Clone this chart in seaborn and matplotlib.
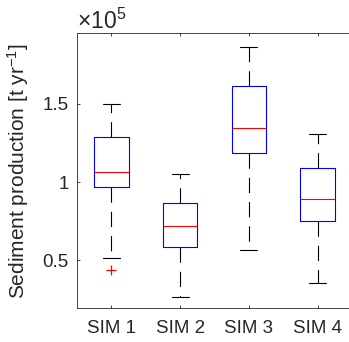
import pandas as pd
import matplotlib as mpl
import matplotlib.pyplot as plt
import seaborn as sns
from matplotlib.ticker import FuncFormatter

sims = ['SIM 1', 'SIM 2', 'SIM 3', 'SIM 4']
sim1 = [0.436, 0.513, 0.968, 1.064, 1.064, 1.064, 1.287, 1.50, 1.50]
sim2 = [0.263, 0.583, 0.718, 0.865, 1.051]
sim3 = [0.564, 1.186, 1.346, 1.615, 1.865]
sim4 = [0.353, 0.750, 0.891, 1.090, 1.308]
yticks = [0.5, 1.0, 1.5]

sns.set_style('ticks')
mpl.rcParams['font.family'] = ['Liberation Sans', 'DejaVu Sans']
mpl.rcParams['mathtext.fontset'] = 'custom'
mpl.rcParams['mathtext.rm'] = 'Liberation Sans'
mpl.rcParams['mathtext.it'] = 'Liberation Sans:italic'
mpl.rcParams['lines.scale_dashes'] = False
mpl.rcParams['xtick.direction'] = 'in'
mpl.rcParams['ytick.direction'] = 'in'

txt = '0.15'

df = pd.DataFrame({'Simulation': [s for s, v in zip(sims, [sim1, sim2, sim3, sim4]) for _ in v],
                   'Production': sim1 + sim2 + sim3 + sim4})

f = plt.figure(figsize=(3.49, 3.42), dpi=100)
f.patch.set_facecolor('white')
ax = f.add_axes([0.2206, 0.098, 0.788, 0.8056])

sns.boxplot(x='Simulation', y='Production', data=df, ax=ax, width=0.5, fill=False,
            linewidth=0.8,
            boxprops=dict(color='blue'),
            medianprops=dict(color='red'),
            whiskerprops=dict(color='black', linestyle=(0, (11, 6.5))),
            capprops=dict(color='black'),
            flierprops=dict(marker='+', markeredgecolor='red', markersize=7,
                            markeredgewidth=0.9))

ax.set_xlim(-0.5, 3.5)
ax.set_ylim(0.19, 1.955)
ax.set_yticks(yticks)
ax.yaxis.set_major_formatter(FuncFormatter(lambda v, p: f'{v:g}'))
ax.tick_params(top=True, right=True, length=2.2, width=0.6, colors=txt,
               labelsize=13.5, labelcolor=txt)
ax.tick_params(axis='x', pad=8)
ax.tick_params(axis='y', pad=6)
for sp in ax.spines.values():
    sp.set_visible(True)
    sp.set_color(txt)
    sp.set_linewidth(0.6)

ax.set_xlabel('')
ax.set_ylabel('Sediment production [t yr$^{-1}$]', fontsize=15, color=txt)
ax.yaxis.set_label_coords(-0.167, 0.5)
ax.text(0.0, 1.016, r'$\times10^{5}$', transform=ax.transAxes, ha='left',
        va='baseline', fontsize=16.5, color=txt)

plt.savefig('out.png', dpi=100)
